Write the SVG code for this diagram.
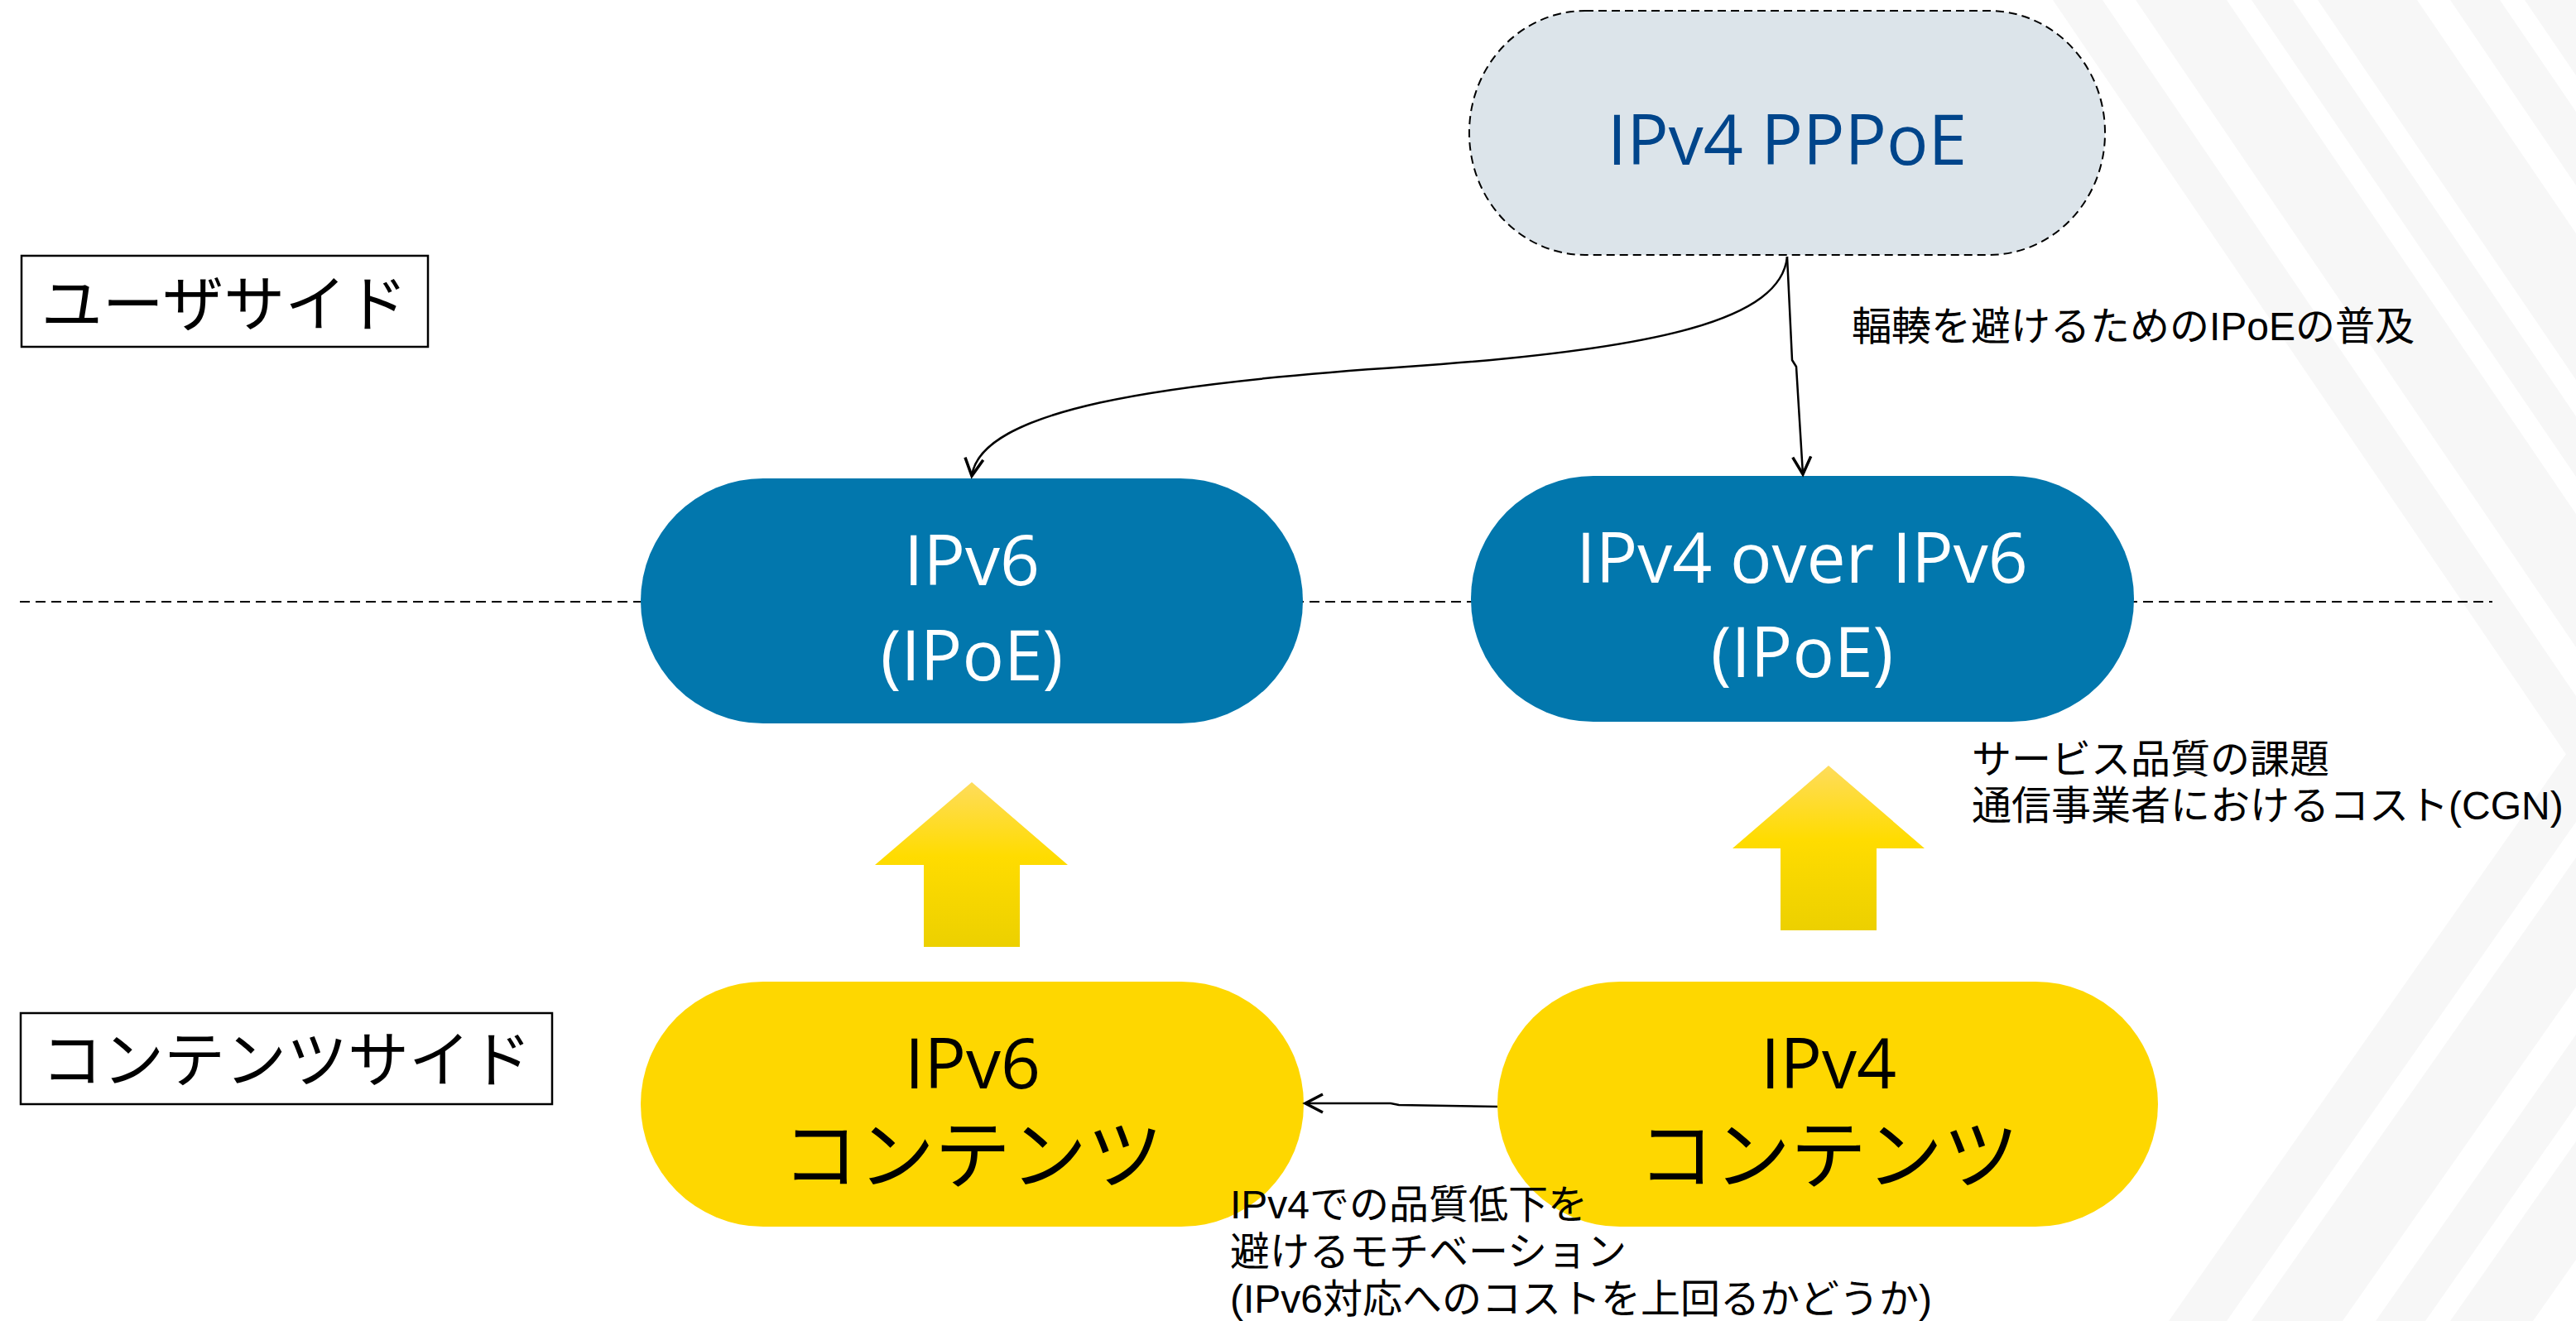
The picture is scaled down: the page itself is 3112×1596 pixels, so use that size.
<svg xmlns="http://www.w3.org/2000/svg" width="3112" height="1596" viewBox="0 0 3112 1596">
  <defs>
    <style>
      .bg { fill: #f7f7f7; }
      .node-text { font-family: "Open Sans", "Noto Sans", sans-serif; font-size: 84px; text-anchor: middle; }
      .white { fill: #ffffff; }
      .black { fill: #000000; }
      .label { font-family: "Liberation Sans", "Noto Sans CJK JP", sans-serif; font-size: 48px; fill: #000000; }
      .side { font-family: "Noto Sans CJK JP", sans-serif; font-size: 74px; fill: #000000; text-anchor: middle; }
      .side-box { fill: #ffffff; stroke: #000000; stroke-width: 2.5; }
      .blue { fill: #0277ad; }
      .yellow { fill: #fed700; }
      .conn { fill: none; stroke: #000000; stroke-width: 2.5; }
      .jp-big { font-family: "Noto Sans CJK JP", sans-serif; font-size: 92px; text-anchor: middle; fill: #000000; }
    </style>
    <linearGradient id="upGrad" x1="0" y1="0" x2="0" y2="1">
      <stop offset="0" stop-color="#fedc5c"/>
      <stop offset="0.45" stop-color="#ffdc00"/>
      <stop offset="1" stop-color="#ecd000"/>
    </linearGradient>
    <marker id="arrow" markerUnits="userSpaceOnUse" markerWidth="40" markerHeight="40" refX="0" refY="0" orient="auto" overflow="visible">
      <path d="M -21 -11 L 0 0 L -21 11" fill="none" stroke="#000000" stroke-width="3.5"/>
    </marker>
  </defs>

  <rect x="0" y="0" width="3112" height="1596" fill="#ffffff"/>

  <g id="background-stripes">
    <polygon class="bg" points="2480,0 2540,0 3112,841 3112,929"/>
    <polygon class="bg" points="2580,0 2690,0 3112,621 3112,782"/>
    <polygon class="bg" points="2720,0 2770,0 3112,503 3112,576"/>
    <polygon class="bg" points="2800,0 2920,0 3112,282 3112,459"/>
    <polygon class="bg" points="2960,0 3020,0 3112,135 3112,224"/>
    <polygon class="bg" points="3050,0 3112,0 3112,91"/>
    <polygon class="bg" points="2620,1596 2690,1596 3112,993 3112,894"/>
    <polygon class="bg" points="2720,1596 2830,1596 3112,1193 3112,1036"/>
    <polygon class="bg" points="2870,1596 2930,1596 3112,1336 3112,1250"/>
    <polygon class="bg" points="2960,1596 3060,1596 3112,1522 3112,1379"/>
  </g>

  <g id="divider">
    <line x1="24" y1="727" x2="3011" y2="727" stroke="#000000" stroke-width="2" stroke-dasharray="12 7"/>
  </g>

  <g id="label-user-side">
    <rect class="side-box" x="26" y="309" width="491" height="110"/>
    <text class="side" x="271" y="394">ユーザサイド</text>
  </g>

  <g id="label-contents-side">
    <rect class="side-box" x="25" y="1224" width="642" height="110"/>
    <text class="side" x="346" y="1307">コンテンツサイド</text>
  </g>

  <g id="node-ipv4-pppoe">
    <rect x="1775" y="13" width="768" height="295" rx="140" ry="147" fill="#dce4ea" stroke="#000000" stroke-width="2" stroke-dasharray="10 6"/>
    <text class="node-text" x="2159" y="199" fill="#00458b">IPv4 PPPoE</text>
  </g>

  <g id="node-ipv6-ipoe">
    <rect class="blue" x="774" y="578" width="800" height="296" rx="148" ry="148"/>
    <text class="node-text white" x="1174" y="707">IPv6</text>
    <text class="node-text white" x="1174" y="822">(IPoE)</text>
  </g>

  <g id="node-ipv4-over-ipv6">
    <rect class="blue" x="1777" y="575" width="801" height="297" rx="148" ry="148"/>
    <text class="node-text white" x="2177" y="704">IPv4 over IPv6</text>
    <text class="node-text white" x="2177" y="818">(IPoE)</text>
  </g>

  <g id="node-ipv6-contents">
    <rect class="yellow" x="774" y="1186" width="801" height="296" rx="148" ry="148"/>
    <text class="node-text black" x="1175" y="1315">IPv6</text>
    <text class="jp-big" x="1175" y="1429">コンテンツ</text>
  </g>

  <g id="node-ipv4-contents">
    <rect class="yellow" x="1809" y="1186" width="798" height="296" rx="148" ry="148"/>
    <text class="node-text black" x="2209" y="1315">IPv4</text>
    <text class="jp-big" x="2209" y="1429">コンテンツ</text>
  </g>

  <g id="up-arrows">
    <polygon fill="url(#upGrad)" points="1174,945 1290,1045 1232,1045 1232,1144 1116,1144 1116,1045 1057,1045"/>
    <polygon fill="url(#upGrad)" points="2209,925 2325,1025 2267,1025 2267,1124 2151,1124 2151,1025 2093,1025"/>
  </g>

  <g id="connectors">
    <path class="conn" d="M 2159 310 C 2152 385 2010 422 1700 443 C 1400 463 1185 495 1174 575" marker-end="url(#arrow)"/>
    <path class="conn" d="M 2159 310 L 2165 435 L 2170 443 L 2178 573" marker-end="url(#arrow)"/>
    <path class="conn" d="M 1809 1337 L 1690 1335 L 1680 1333 L 1577 1333" marker-end="url(#arrow)"/>
  </g>

  <g id="annotations">
    <text class="label" x="2237" y="411">輻輳を避けるためのIPoEの普及</text>
    <text class="label" x="2382" y="934">サービス品質の課題</text>
    <text class="label" x="2382" y="990">通信事業者におけるコスト(CGN)</text>
    <text class="label" x="1486" y="1472">IPv4での品質低下を</text>
    <text class="label" x="1486" y="1529">避けるモチベーション</text>
    <text class="label" x="1486" y="1586">(IPv6対応へのコストを上回るかどうか)</text>
  </g>
</svg>
